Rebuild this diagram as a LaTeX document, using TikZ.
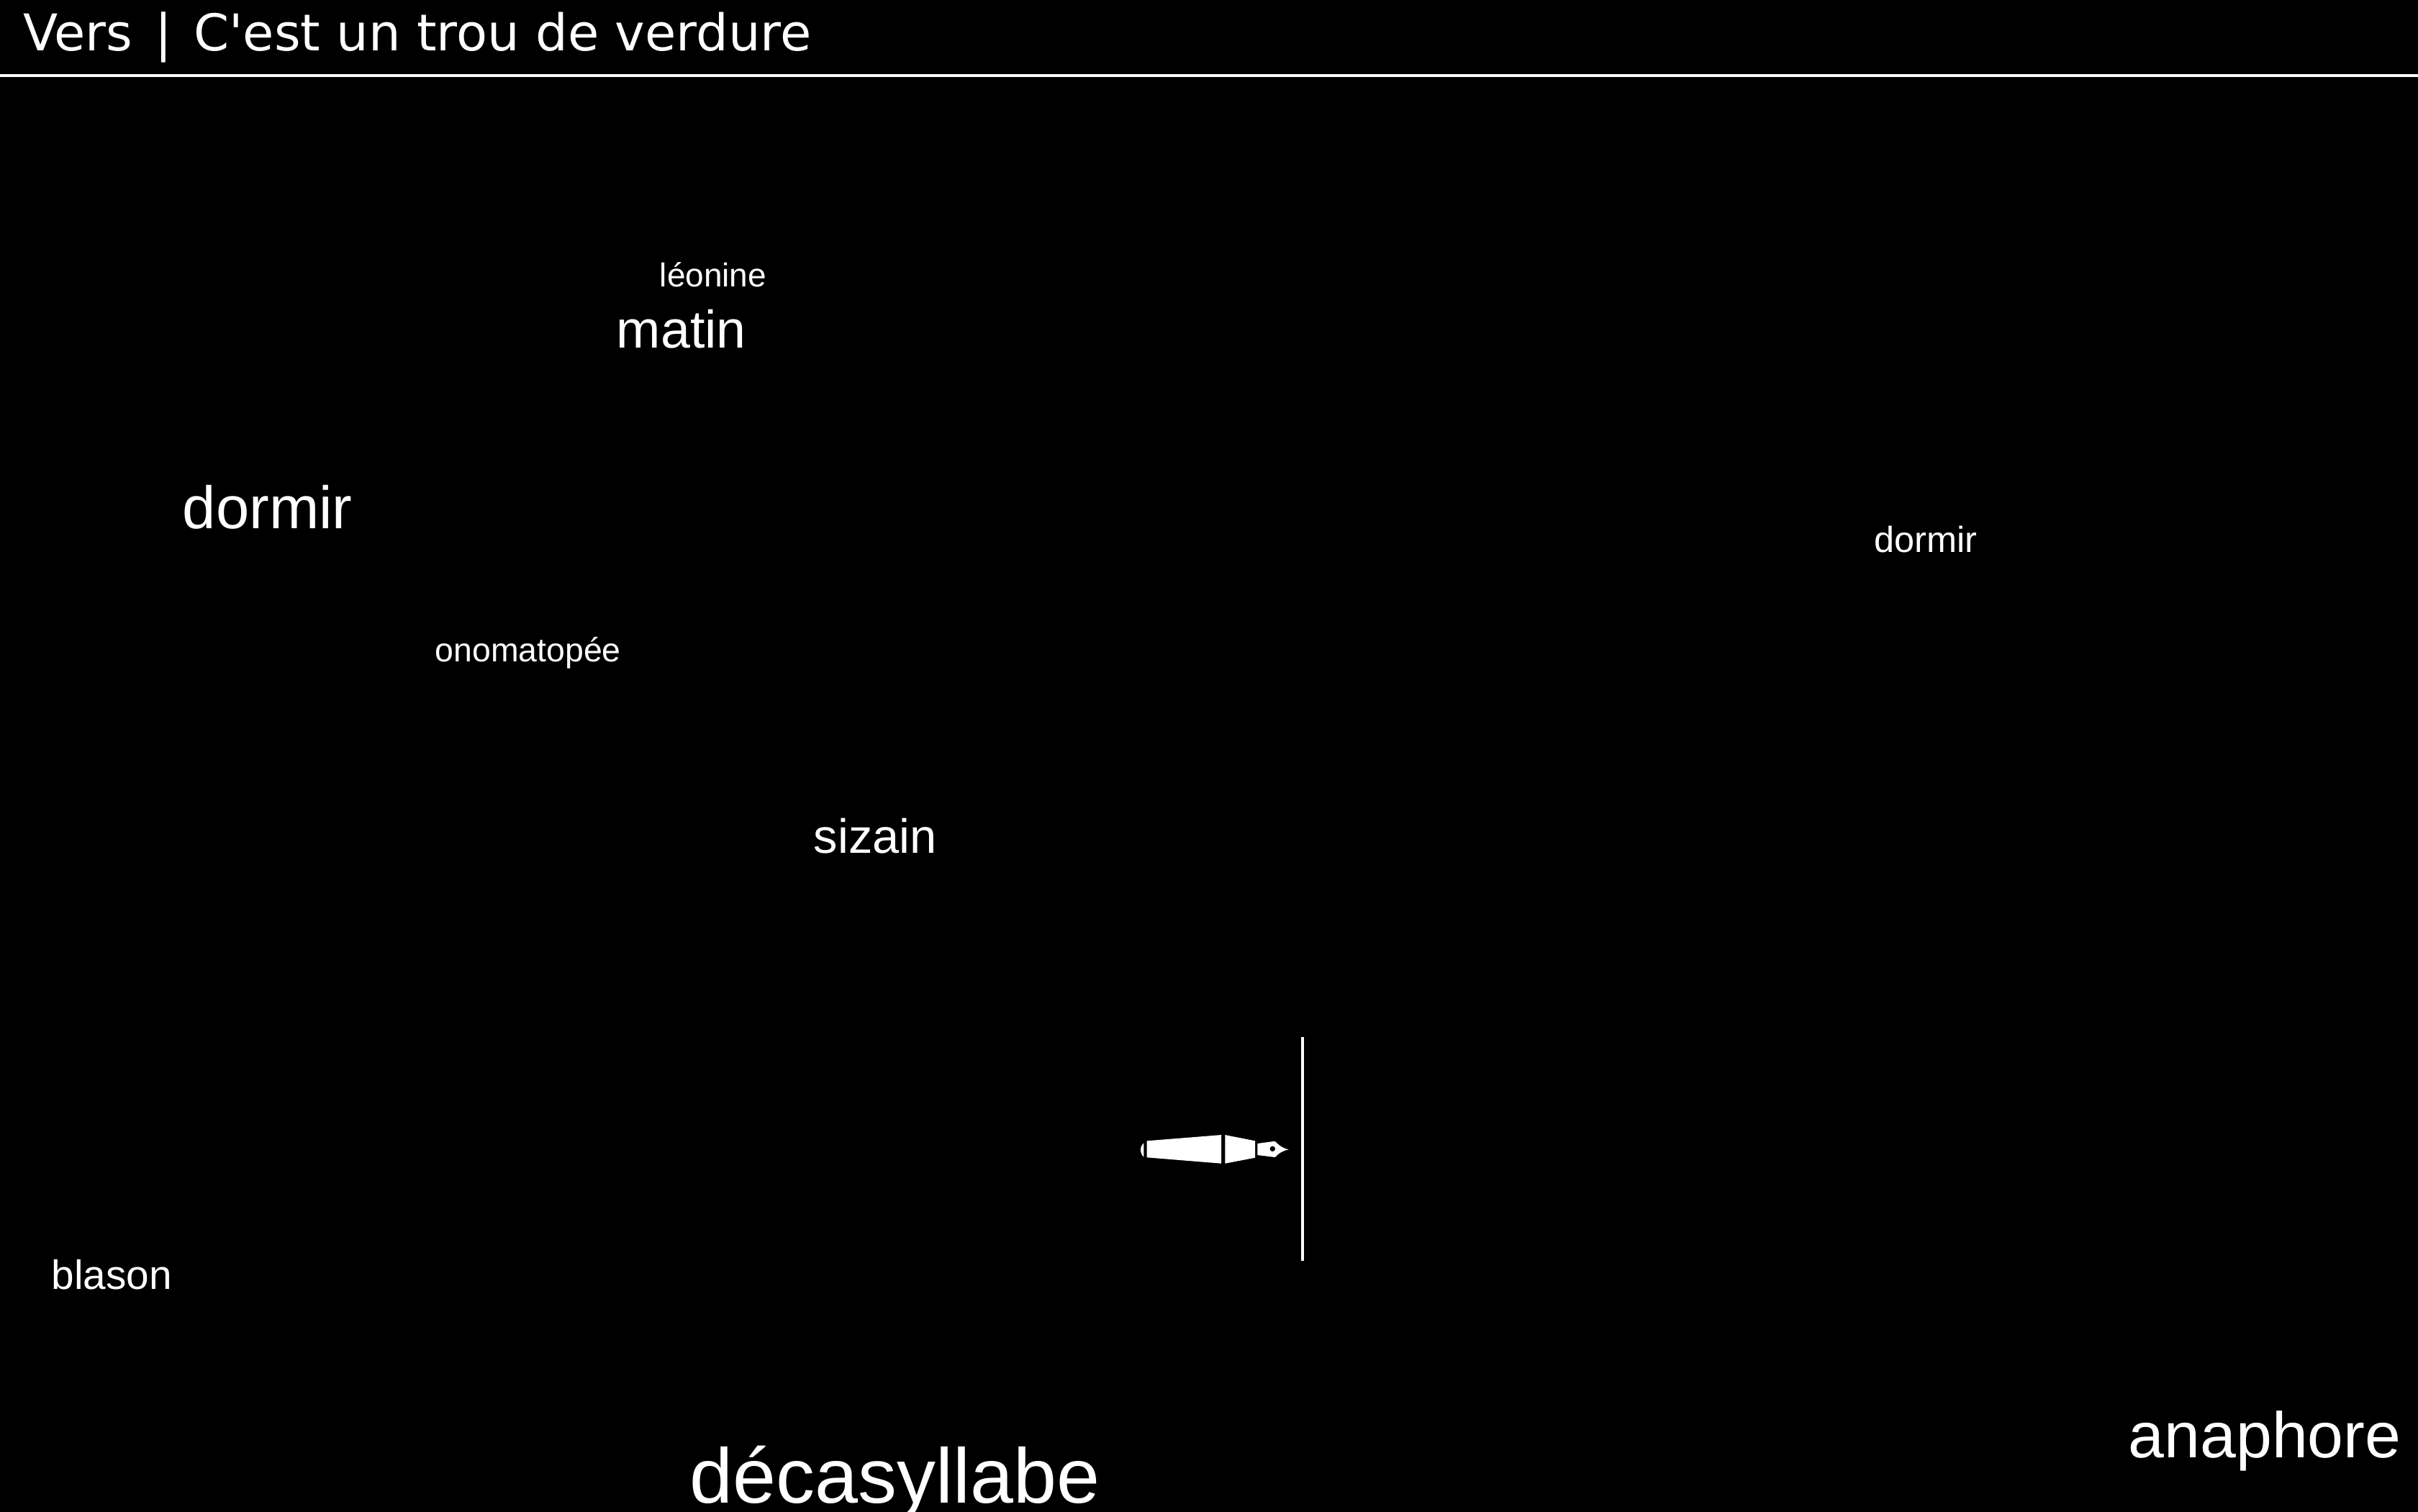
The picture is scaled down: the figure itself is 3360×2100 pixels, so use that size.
\documentclass[tikz,border=0pt]{standalone}
\usepackage{fontspec}
\setmainfont{Liberation Sans}
\newfontfamily\headfont{DejaVu Sans}
\usetikzlibrary{positioning}
\tikzset{
  word/.style={anchor=base west,inner sep=0pt,text=white,font=\fontsize{#1}{#1}\selectfont},
  penpart/.style={fill=white,draw=none}
}

\begin{document}
\begin{tikzpicture}[x=0.25pt,y=0.25pt,yscale=-1,xscale=1]

%Shape: Background
\path [use as bounding box] (0,0) rectangle (3360,2100);
\fill [black] (-20,-20) rectangle (3380,2120);

% Header
\node (header) [anchor=base west,inner sep=0pt,text=white,font=\headfont\fontsize{17.6}{17.6}\selectfont] at (32,70) {Vers \hspace{2.3pt}| \hspace{1.8pt}C'est un trou de verdure};
\coordinate (ruleleft) at (0,105);
\coordinate (ruleright) at (3360,105);
\draw [white,line width=1pt] (ruleleft) -- (ruleright);

% Text Node
\node (leonine) [word=11.5] at (916,398) {léonine};
\node (matin) [word=18.4] at (856,483) {matin};
\node (dormirleft) [word=20.8] at (253,734) {dormir};
\node (dormirright) [word=12.6] at (2604,767) {dormir};
\node (onomatopee) [word=11.6] at (604,919) {onomatopée};
\node (sizain) [word=16.7] at (1130,1185) {sizain};
\node (blason) [word=14.2] at (71,1791) {blason};
\node (decasyllabe) [word=26.95] at (958,2088) {décasyllabe};
\node (anaphore) [word=22.4] at (2957,2025) {anaphore};

%Shape: Caret
\coordinate (carettop) at (1810,1441);
\coordinate (caretbottom) at (1810,1752);
\draw [white,line width=1pt] (carettop) -- (caretbottom);

%Shape: Pen
\fill [penpart] (1589.3,1588.3) .. controls (1586.5,1591) and (1585,1594) .. (1585,1597.7) .. controls (1585,1601.5) and (1586.5,1605) .. (1589.3,1607.7) -- cycle ;
\fill [penpart] (1593.7,1585.3) -- (1697,1577) -- (1697,1616.7) -- (1593.7,1608.3) -- cycle ;
\fill [penpart] (1702.3,1577) -- (1744,1585.3) -- (1744,1608.7) -- (1702.3,1616.7) -- cycle ;
\fill [penpart] (1747.3,1589) -- (1771.7,1585.7) .. controls (1778,1592.5) and (1784,1596) .. (1790.7,1597.3) .. controls (1784,1598.5) and (1778,1601.5) .. (1771.7,1608) -- (1747.3,1605) -- cycle ;
\fill [black] (1768.3,1596.3) circle [radius=3.7*0.25pt];

\end{tikzpicture}
\end{document}
